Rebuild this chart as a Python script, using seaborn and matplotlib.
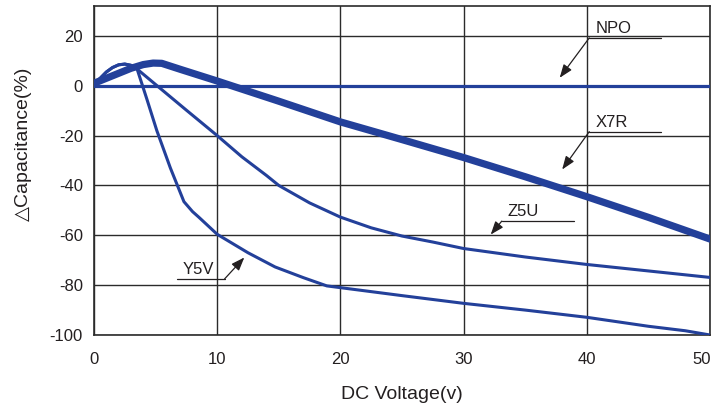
import matplotlib
matplotlib.use("Agg")
import matplotlib.pyplot as plt
import matplotlib.transforms as mtransforms
import seaborn as sns
import pandas as pd

# ---- data ----
npo_v = [0, 50]
npo_c = [0, 0]

x7r_v = [0, 1, 2, 3, 4, 4.8, 5.5, 7, 10, 15, 20, 25, 30, 35, 40, 45, 50]
x7r_c = [1, 3, 5, 7, 8.5, 9.1, 9, 6.6, 1.9, -6.2, -14.5, -21.6, -28.8, -36.5, -44.5, -52.8, -61.5]

z5u_v = [0, 0.5, 1, 1.5, 2, 2.5, 3, 3.5, 5, 7.5, 10, 12, 14, 15, 17.5, 20, 22.5, 25,
         27.5, 30, 35, 40, 45, 50]
z5u_c = [0.5, 3, 5.5, 7.3, 8.4, 8.7, 8.2, 6.7, 0.5, -9.8, -20, -28.5, -36, -40, -47, -52.7,
         -57, -60.3, -62.7, -65.3, -68.7, -71.7, -74.3, -76.9]

y5v_v = [0, 0.5, 1, 1.5, 2, 2.5, 3, 3.5, 4.3, 5.1, 6.2, 7.3, 8, 8.5, 10, 12.5, 14.7, 17,
         18.9, 20, 25, 30, 35, 40, 45, 48, 50]
y5v_c = [0.5, 3, 5.5, 7.3, 8.4, 8.7, 8.2, 6.7, -5.5, -18, -33, -46.5, -50.5, -52.7, -59.6,
         -67, -72.7, -77, -80.3, -81, -84.2, -87.3, -90, -92.9, -96.5, -98.3, -100]

series_names = ["NPO", "X7R", "Z5U", "Y5V"]
x_ticks = [0, 10, 20, 30, 40, 50]
x_minor_ticks = [5, 15, 25, 35, 45]
y_ticks = [-100, -80, -60, -40, -20, 0, 20]

frames = []
for name, v, c in zip(series_names, [npo_v, x7r_v, z5u_v, y5v_v], [npo_c, x7r_c, z5u_c, y5v_c]):
    frames.append(pd.DataFrame({"voltage": v, "cap": c, "type": name}))
df = pd.concat(frames, ignore_index=True)

# ---- style ----
sns.set_style("white")
plt.rcParams["font.family"] = ["Liberation Sans", "DejaVu Sans"]
text_color = "#231f20"
line_color = "#23409a"
grid_color = "#2b2b2b"

fig = plt.figure(figsize=(7.17, 4.09), dpi=100)
ax = fig.add_axes([94 / 717, 1 - 335 / 409, (710 - 94) / 717, (335 - 6) / 409])

widths = {"NPO": 2.3, "X7R": 5.2, "Z5U": 2.2, "Y5V": 2.2}
for name in series_names:
    sns.lineplot(data=df[df["type"] == name], x="voltage", y="cap", ax=ax,
                 color=line_color, linewidth=widths[name], sort=False,
                 estimator=None, legend=False, zorder=3)

ax.set_xlim(0, 50)
ax.set_ylim(-100, 32)
ax.set_xticks(x_ticks)
ax.set_xticks(x_minor_ticks, minor=True)
ax.set_yticks(y_ticks)
ax.set_xticklabels([str(t) for t in x_ticks])
ax.set_yticklabels([str(t) for t in y_ticks])
ax.grid(True, which="major", color=grid_color, linewidth=1.0)
ax.tick_params(which="major", length=0, labelsize=12, labelcolor=text_color)
ax.tick_params(axis="x", which="major", pad=12)
ax.tick_params(axis="y", which="major", pad=8)
ax.tick_params(axis="x", which="minor", direction="in", length=8, width=1.0, color=grid_color)
for s in ax.spines.values():
    s.set_color(grid_color)
    s.set_linewidth(1.2)

# nudge the right-most tick label slightly left so it stays inside the canvas
last = ax.xaxis.get_major_ticks()[-1].label1
last.set_transform(last.get_transform()
                   + mtransforms.ScaledTranslation(-6 / 72, 0, fig.dpi_scale_trans))

ax.set_xlabel("DC Voltage(v)", fontsize=14, color=text_color, labelpad=14)
ax.set_ylabel("△Capacitance(%)", fontsize=14, color=text_color)
ax.yaxis.set_label_coords(-0.1, 0.58)

# ---- callouts: label, underline start/end x, underline y, arrow tip ----
callouts = [
    ("NPO", 40.2, 46.0, 19.2, (37.8, 3.2), "left"),
    ("X7R", 40.2, 46.0, -18.4, (38.0, -33.6), "left"),
    ("Z5U", 33.1, 39.0, -54.3, (32.2, -59.7), "left"),
    ("Y5V", 6.7, 10.6, -77.5, (12.2, -68.9), "right"),
]
for label, x0, x1, y, tip, side in callouts:
    ax.plot([x0, x1], [y, y], color=text_color, linewidth=0.9, zorder=4)
    start = (x0, y) if side == "left" else (x1, y)
    ax.annotate("", xy=tip, xytext=start,
                arrowprops=dict(arrowstyle="-|>,head_length=0.8,head_width=0.3",
                                color=text_color, linewidth=0.9,
                                shrinkA=0, shrinkB=0, mutation_scale=10),
                zorder=4)
    ax.text(x0 + 0.5, y + 0.8, label, fontsize=12, color=text_color,
            ha="left", va="bottom", zorder=4)

fig.savefig("out.png", dpi=100)
